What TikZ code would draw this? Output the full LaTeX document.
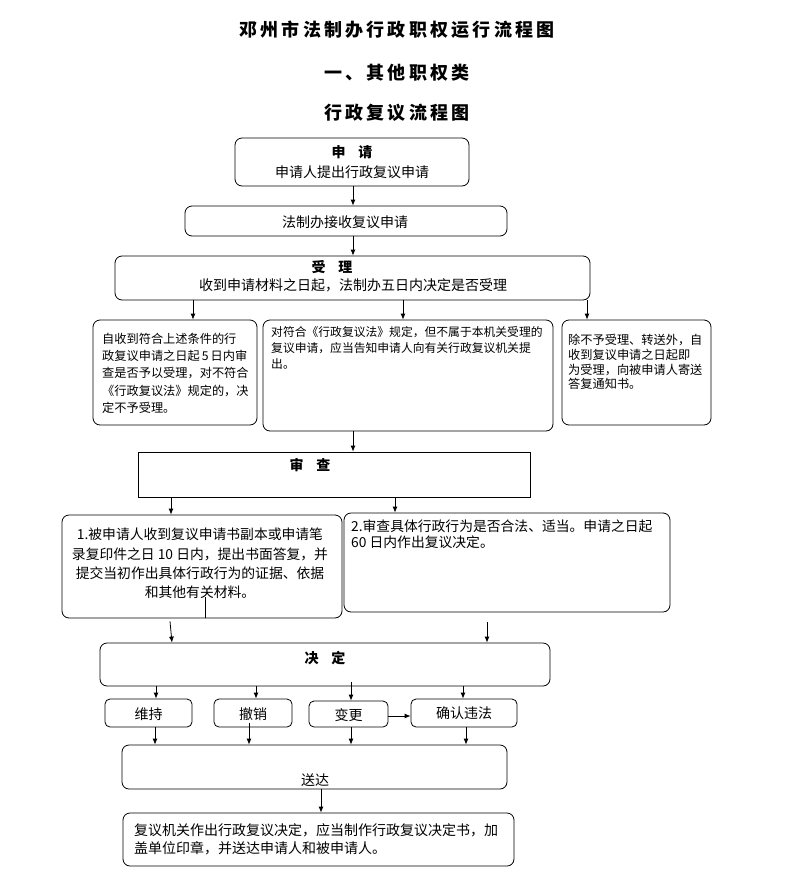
\documentclass[tikz,border=0pt]{standalone}
\usepackage{fontspec}
\setmainfont{Noto Sans CJK SC}
\usetikzlibrary{arrows.meta}
\tikzset{
  rbox/.style={draw, rounded corners=7pt, line width=0.8pt, inner sep=0pt},
  sbox/.style={draw, line width=0.8pt, inner sep=0pt},
  arr/.style={-{Latex[length=6pt,width=5pt]}, line width=0.8pt},
  plain/.style={line width=0.8pt},
  txt/.style={inner sep=0pt, font=\fontsize{14}{17}\selectfont},
  head/.style={inner sep=0pt, font=\fontsize{14}{17}\selectfont\bfseries},
  ttl/.style={inner sep=0pt, font=\fontsize{18}{20}\selectfont\bfseries\addfontfeature{LetterSpace=18}}
}
\begin{document}
\begin{tikzpicture}[x=1pt,y=-1pt]
\useasboundingbox (0,0) rectangle (793,889);
% titles
\node[ttl] (t1) at (397,30) {邓州市法制办行政职权运行流程图};
\node[ttl] (t2) at (397,73) {一、其他职权类};
\node[ttl] (t3) at (397,113) {行政复议流程图};
% boxes
\node[rbox, minimum width=234pt, minimum height=48pt] (shenqing) at (352,162) {};
\node[rbox, minimum width=322pt, minimum height=30pt] (jieshou) at (346,221) {};
\node[rbox, minimum width=475pt, minimum height=44pt] (shouli) at (352.5,278) {};
\node[rbox, minimum width=164pt, minimum height=105pt] (ba) at (175,372.5) {};
\node[rbox, minimum width=290pt, minimum height=111pt] (bb) at (408,375.5) {};
\node[rbox, minimum width=149pt, minimum height=105pt] (bc) at (636.5,372.5) {};
\node[sbox, minimum width=392pt, minimum height=45pt] (shencha) at (334,474.5) {};
\node[rbox, minimum width=280pt, minimum height=103pt] (b1) at (202,566.5) {};
\node[rbox, minimum width=326pt, minimum height=99pt] (b2) at (507,562.5) {};
\node[rbox, minimum width=450pt, minimum height=43pt] (jueding) at (325,664.5) {};
\node[rbox, rounded corners=5pt, minimum width=87pt, minimum height=28pt] (weichi) at (148.5,713) {};
\node[rbox, rounded corners=5pt, minimum width=78pt, minimum height=28pt] (chexiao) at (253,713) {};
\node[rbox, rounded corners=5pt, minimum width=79pt, minimum height=26pt] (biangeng) at (348.5,714) {};
\node[rbox, rounded corners=5pt, minimum width=106pt, minimum height=28pt] (queren) at (464,713) {};
\node[rbox, minimum width=385pt, minimum height=44pt] (songda) at (314.5,767) {};
\node[rbox, minimum width=391pt, minimum height=53pt] (final) at (318.5,839.5) {};
% texts
\node[head] (tsq1) at (352,152) {申\hspace{0.9em}请};
\node[txt] (tsq2) at (352,172) {申请人提出行政复议申请};
\node[txt] (tjs) at (345,222) {法制办接收复议申请};
\node[head] (tsl1) at (332,267) {受\hspace{0.9em}理};
\node[txt] (tsl2) at (353,285) {收到申请材料之日起，法制办五日内决定是否受理};
\node[inner sep=0pt, anchor=north west, align=left, font=\fontsize{12.2}{17.2}\selectfont] (ta) at (102,333) {自收到符合上述条件的行\\政复议申请之日起\,5\,日内审\\查是否予以受理，对不符合\\《行政复议法》规定的，决\\定不予受理。};
\node[inner sep=0pt, anchor=north west, align=left, font=\fontsize{11.8}{16}\selectfont] (tb) at (271,326) {对符合《行政复议法》规定，但不属于本机关受理的\\复议申请，应当告知申请人向有关行政复议机关提\\出。};
\node[inner sep=0pt, anchor=north west, align=left, font=\fontsize{12.2}{14.8}\selectfont] (tc) at (568,334) {除不予受理、转送外，自\\收到复议申请之日起即\\为受理，向被申请人寄送\\答复通知书。};
\node[head] (tsc) at (310,465) {审\hspace{0.9em}查};
\node[inner sep=0pt, anchor=north, align=center, font=\fontsize{13.8}{19.3}\selectfont] (t1b) at (200,528) {1.被申请人收到复议申请书副本或申请笔\\录复印件之日 10 日内，提出书面答复，并\\提交当初作出具体行政行为的证据、依据\\和其他有关材料。};
\node[inner sep=0pt, anchor=north west, align=left, font=\fontsize{13.8}{16}\selectfont] (t2b) at (351,520) {2.审查具体行政行为是否合法、适当。申请之日起\\60 日内作出复议决定。};
\node[head] (tjd) at (325,658) {决\hspace{0.9em}定};
\node[txt] (twc) at (148.5,714) {维持};
\node[txt] (tcx) at (253,714) {撤销};
\node[txt] (tbg) at (348.5,715.5) {变更};
\node[txt] (tqr) at (464,713) {确认违法};
\node[txt] (tsd) at (315,780) {送达};
\node[inner sep=0pt, anchor=north west, align=left, font=\fontsize{14}{18}\selectfont] (tfin) at (134,823) {复议机关作出行政复议决定，应当制作行政复议决定书，加\\盖单位印章，并送达申请人和被申请人。};
% connectors
\draw[arr] (shenqing.south -| 353,0) -- (jieshou.north -| 353,0);
\draw[arr] (jieshou.south -| 353,0) -- (shouli.north -| 353,0);
\draw[arr] (shouli.south -| 193,0) -- (ba.north -| 193,0);
\draw[arr] (shouli.south -| 403,0) -- (bb.north -| 403,0);
\draw[arr] (shouli.south -| 587,0) -- (bc.north -| 587,0);
\draw[arr] (bb.south -| 353,0) -- (shencha.north -| 353,0);
\draw[arr] (shencha.south -| 171,0) -- (b1.north -| 171,0);
\draw[arr] (shencha.south -| 395,0) -- (b2.north -| 395,0);
\draw[plain] (b1.south -| 205,0) -- ++(0,-21);
\draw[arr] (b1.south -| 170,0) ++(0,3) -- (jueding.north -| 172,0);
\draw[arr] (b2.south -| 487,0) ++(0,10) -- (jueding.north -| 487,0);
\draw[arr] (jueding.south -| 156,0) -- (weichi.north -| 156,0);
\draw[arr] (jueding.south -| 256,0) -- (chexiao.north -| 256,0);
\draw[arr] (jueding.south -| 351,0) ++(0,-4) -- (biangeng.north -| 351,0);
\draw[arr] (jueding.south -| 463,0) -- (queren.north -| 463,0);
\draw[arr] (biangeng.east) ++(0,2) -- (queren.west |- 0,716);
\draw[arr] (weichi.south -| 155,0) -- (songda.north -| 155,0);
\draw[arr] (chexiao.south -| 249,0) ++(0,-4) -- (songda.north -| 249,0);
\draw[arr] (biangeng.south -| 351,0) -- (songda.north -| 351,0);
\draw[arr] (queren.south -| 466,0) -- (songda.north -| 466,0);
\draw[arr] (songda.south -| 321,0) -- (final.north -| 321,0);
\end{tikzpicture}
\end{document}
